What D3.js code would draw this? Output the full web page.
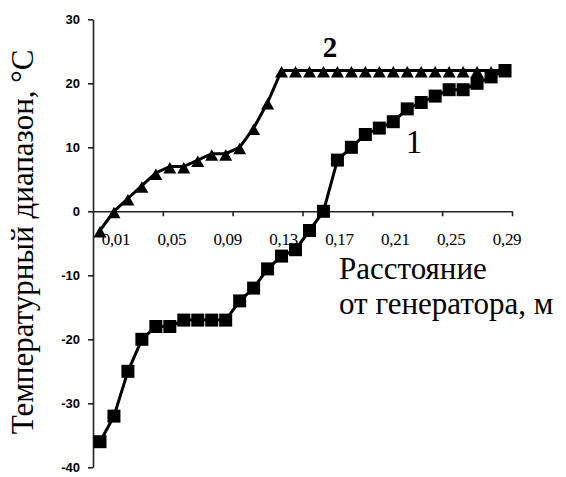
<!DOCTYPE html>
<html>
<head>
<meta charset="utf-8">
<script src="https://cdn.jsdelivr.net/npm/d3@7"></script>
<style>
  body { margin: 0; background: #fff; }
  .ytick text { font-family: "Liberation Sans", Arial, sans-serif; font-weight: bold; font-size: 13px; }
  .xlabel { font-family: "Liberation Serif", "Times New Roman", serif; font-size: 17px; letter-spacing: -0.3px; }
  .title { font-family: "Liberation Serif", "Times New Roman", serif; font-size: 31px; }
</style>
</head>
<body>
<div class="chart"></div>
<script>
// distance from generator, m (one category every 0.01)
var distances = ["0,01","0,02","0,03","0,04","0,05","0,06","0,07","0,08","0,09","0,10",
                 "0,11","0,12","0,13","0,14","0,15","0,16","0,17","0,18","0,19","0,20",
                 "0,21","0,22","0,23","0,24","0,25","0,26","0,27","0,28","0,29","0,30"];

// curve 1 (squares)
var series1 = [-36, -32, -25, -20, -18, -18, -17, -17, -17, -17,
               -14, -12, -9, -7, -6, -3, 0, 8, 10, 12,
               13, 14, 16, 17, 18, 19, 19, 20, 21, 22];

// curve 2 (triangles)
var series2 = [-3, 0, 2, 4, 6, 7, 7, 8, 9, 9,
               10, 13, 17, 22, 22, 22, 22, 22, 22, 22,
               22, 22, 22, 22, 22, 22, 22, 22, 22, 22];

var yTicks = [-40, -30, -20, -10, 0, 10, 20, 30];
var xTickLabels = ["0,01", "0,05", "0,09", "0,13", "0,17", "0,21", "0,25", "0,29"];

var svgWidth = 566;
var svgHeight = 477;

var svg = d3.select(".chart")
  .append("svg")
  .attr("width", svgWidth)
  .attr("height", svgHeight);

// scales: category index -> x (boundaries), temperature -> y
var xScale = d3.scaleLinear().domain([0, distances.length]).range([93, 512]);
var yScale = d3.scaleLinear().domain([-40, 30]).range([467.3, 19.3]);

function cx(i) { return xScale(i + 0.5); }

// y axis
var leftAxis = d3.axisLeft(yScale)
  .tickValues(yTicks)
  .tickSize(5)
  .tickSizeOuter(0)
  .tickPadding(8)
  .tickFormat(function(d) { return String(d); });

svg.append("g")
  .attr("class", "ytick")
  .attr("transform", "translate(93,0)")
  .call(leftAxis)
  .call(function(g) {
    g.selectAll("path, line").attr("stroke", "#222").attr("stroke-width", 1.6);
  });

// x axis crosses at 0, tick marks every 5 categories
var bottomAxis = d3.axisBottom(xScale)
  .tickValues([5, 10, 15, 20, 25, 30])
  .tickSize(5)
  .tickSizeOuter(0)
  .tickFormat("");

svg.append("g")
  .attr("transform", `translate(0, ${yScale(0)})`)
  .call(bottomAxis)
  .call(function(g) {
    g.selectAll("path, line").attr("stroke", "#222").attr("stroke-width", 1.6);
  });

// x tick labels (every 4th category)
svg.selectAll(".xlabel")
  .data(xTickLabels)
  .enter()
  .append("text")
  .attr("class", "xlabel")
  .attr("x", function(d) { return cx(distances.indexOf(d)) + 16; })
  .attr("y", yScale(0) + 34)
  .attr("text-anchor", "middle")
  .text(function(d) { return d; });

var line = d3.line()
  .x(function(d, i) { return cx(i); })
  .y(function(d) { return yScale(d); });

// curve 2
svg.append("path")
  .datum(series2)
  .attr("d", line)
  .attr("fill", "none")
  .attr("stroke", "#000")
  .attr("stroke-width", 3);

svg.selectAll(".tri")
  .data(series2)
  .enter()
  .append("path")
  .attr("class", "tri")
  .attr("d", "M0,-4.5L6.5,7L-6.5,7Z")
  .attr("transform", function(d, i) { return `translate(${cx(i)},${yScale(d)})`; })
  .attr("fill", "#000");

// curve 1
svg.append("path")
  .datum(series1)
  .attr("d", line)
  .attr("fill", "none")
  .attr("stroke", "#000")
  .attr("stroke-width", 3);

svg.selectAll(".sq")
  .data(series1)
  .enter()
  .append("rect")
  .attr("class", "sq")
  .attr("x", function(d, i) { return cx(i) - 6.5; })
  .attr("y", function(d) { return yScale(d) - 6.5; })
  .attr("width", 13)
  .attr("height", 13)
  .attr("fill", "#000");

// curve numbers
svg.append("text")
  .attr("class", "title")
  .attr("x", 330)
  .attr("y", 57)
  .attr("text-anchor", "middle")
  .style("font-size", "29px")
  .style("font-weight", "bold")
  .text("2");

svg.append("text")
  .attr("class", "title")
  .attr("x", 414)
  .attr("y", 153)
  .attr("text-anchor", "middle")
  .style("font-size", "33px")
  .text("1");

// y axis title
svg.append("text")
  .attr("class", "title")
  .attr("transform", "translate(33,242) rotate(-90)")
  .attr("text-anchor", "middle")
  .text("Температурный диапазон, °C");

// x axis title, two lines
svg.append("text")
  .attr("class", "title")
  .attr("x", 339)
  .attr("y", 279)
  .text("Расстояние");

svg.append("text")
  .attr("class", "title")
  .attr("x", 339)
  .attr("y", 314)
  .text("от генератора, м");
</script>
</body>
</html>
